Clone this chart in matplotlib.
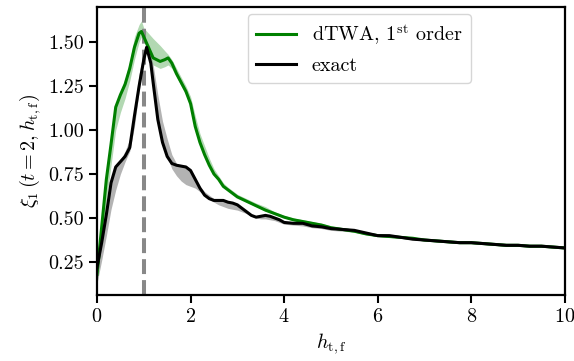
import numpy as np
import matplotlib
matplotlib.use("Agg")
import matplotlib.pyplot as plt

plt.rcParams['font.family'] = 'serif'
plt.rcParams['font.serif'] = ['cmr10', 'DejaVu Serif']
plt.rcParams['mathtext.fontset'] = 'cm'
plt.rcParams['axes.formatter.use_mathtext'] = True
plt.rcParams['font.size'] = 14.5

# dTWA 1st order
x_dtwa = [0, 0.1, 0.2, 0.3, 0.4, 0.5, 0.6, 0.7, 0.8, 0.9, 0.95, 1.0, 1.1, 1.2, 1.35, 1.45, 1.52,
          1.6, 1.7, 1.8, 1.9, 2.0, 2.1, 2.2, 2.3, 2.4, 2.5, 2.6, 2.7, 2.8, 2.9, 3.0, 3.2, 3.4,
          3.6, 3.8, 4.0, 4.2, 4.4, 4.6, 4.8, 5.0, 5.25, 5.5, 5.75, 6.0, 6.25, 6.5, 6.75, 7.0,
          7.25, 7.5, 7.75, 8.0, 8.25, 8.5, 8.75, 9.0, 9.25, 9.5, 9.75, 10.0]
y_dtwa = [0.18, 0.45, 0.72, 0.92, 1.13, 1.20, 1.26, 1.35, 1.47, 1.55, 1.56, 1.53, 1.47, 1.41, 1.39, 1.40, 1.41,
          1.38, 1.32, 1.27, 1.22, 1.15, 1.02, 0.93, 0.86, 0.80, 0.75, 0.72, 0.68, 0.66, 0.64, 0.62, 0.595, 0.57,
          0.545, 0.525, 0.505, 0.49, 0.48, 0.47, 0.46, 0.445, 0.435, 0.425, 0.41, 0.40, 0.395, 0.39, 0.385, 0.375,
          0.37, 0.365, 0.36, 0.36, 0.355, 0.35, 0.345, 0.345, 0.34, 0.34, 0.335, 0.33]
lo_dtwa = [0.15, 0.36, 0.60, 0.80, 1.00, 1.10, 1.18, 1.28, 1.40, 1.50, 1.53, 1.50, 1.44, 1.37, 1.35, 1.36, 1.37,
           1.35, 1.30, 1.25, 1.20, 1.13, 1.00, 0.92, 0.85, 0.79, 0.745, 0.715, 0.675, 0.655, 0.635, 0.615, 0.59, 0.565,
           0.54, 0.52, 0.50, 0.485, 0.475, 0.465, 0.455, 0.44, 0.43, 0.42, 0.405, 0.395, 0.39, 0.385, 0.38, 0.37,
           0.365, 0.36, 0.355, 0.355, 0.35, 0.345, 0.34, 0.34, 0.335, 0.335, 0.33, 0.325]
hi_dtwa = [0.22, 0.48, 0.75, 0.95, 1.15, 1.22, 1.29, 1.39, 1.53, 1.60, 1.62, 1.58, 1.55, 1.52, 1.48, 1.45, 1.43,
           1.40, 1.35, 1.30, 1.25, 1.19, 1.08, 0.98, 0.91, 0.84, 0.78, 0.74, 0.70, 0.675, 0.655, 0.635, 0.61, 0.585,
           0.565, 0.535, 0.515, 0.50, 0.49, 0.48, 0.47, 0.455, 0.445, 0.435, 0.42, 0.41, 0.405, 0.40, 0.39, 0.385,
           0.38, 0.375, 0.37, 0.365, 0.365, 0.36, 0.355, 0.35, 0.35, 0.345, 0.345, 0.34]

# exact
x_exact = [0, 0.1, 0.2, 0.3, 0.4, 0.5, 0.6, 0.7, 0.8, 0.9, 1.0, 1.06, 1.15, 1.2, 1.3, 1.4, 1.5, 1.6,
           1.7, 1.8, 1.9, 2.0, 2.1, 2.2, 2.3, 2.4, 2.5, 2.6, 2.7, 2.8, 2.9, 3.0, 3.1, 3.2, 3.3, 3.4,
           3.5, 3.6, 3.7, 3.8, 3.9, 4.0, 4.2, 4.4, 4.6, 4.8, 5.0, 5.25, 5.5, 5.75, 6.0, 6.25, 6.5,
           6.75, 7.0, 7.25, 7.5, 7.75, 8.0, 8.25, 8.5, 8.75, 9.0, 9.25, 9.5, 9.75, 10.0]
y_exact = [0.22, 0.36, 0.52, 0.70, 0.79, 0.82, 0.85, 0.90, 1.08, 1.25, 1.40, 1.47, 1.38, 1.27, 1.06, 0.93, 0.85, 0.81,
           0.80, 0.795, 0.79, 0.77, 0.72, 0.67, 0.63, 0.61, 0.60, 0.60, 0.60, 0.59, 0.585, 0.575, 0.555, 0.535, 0.515, 0.505,
           0.51, 0.515, 0.51, 0.50, 0.49, 0.475, 0.47, 0.47, 0.455, 0.45, 0.44, 0.435, 0.43, 0.415, 0.40, 0.40, 0.39,
           0.38, 0.375, 0.37, 0.365, 0.36, 0.36, 0.355, 0.35, 0.345, 0.345, 0.34, 0.34, 0.335, 0.33]
lo_exact = [0.13, 0.26, 0.40, 0.55, 0.66, 0.75, 0.82, 0.88, 1.02, 1.22, 1.38, 1.46, 1.36, 1.27, 1.06, 0.93, 0.85, 0.78,
            0.74, 0.71, 0.69, 0.68, 0.67, 0.65, 0.63, 0.605, 0.59, 0.575, 0.565, 0.555, 0.55, 0.545, 0.535, 0.525, 0.51, 0.50,
            0.495, 0.495, 0.49, 0.485, 0.475, 0.465, 0.46, 0.455, 0.445, 0.44, 0.43, 0.425, 0.42, 0.405, 0.395, 0.39, 0.385,
            0.375, 0.37, 0.365, 0.36, 0.355, 0.355, 0.35, 0.345, 0.34, 0.34, 0.335, 0.335, 0.33, 0.325]
hi_exact = [0.23, 0.38, 0.53, 0.71, 0.80, 0.83, 0.88, 0.95, 1.12, 1.32, 1.45, 1.48, 1.42, 1.37, 1.20, 1.05, 0.95, 0.86,
            0.81, 0.80, 0.80, 0.78, 0.73, 0.68, 0.65, 0.63, 0.61, 0.605, 0.60, 0.595, 0.59, 0.58, 0.56, 0.54, 0.52, 0.51,
            0.515, 0.52, 0.515, 0.505, 0.495, 0.48, 0.475, 0.475, 0.46, 0.455, 0.445, 0.44, 0.435, 0.42, 0.405, 0.405, 0.395,
            0.385, 0.38, 0.375, 0.37, 0.365, 0.365, 0.36, 0.355, 0.35, 0.35, 0.345, 0.345, 0.34, 0.335]

h_crit = 1.0

fig = plt.figure(figsize=(5.74, 3.61), dpi=100)
ax = fig.add_axes([0.169, 0.183, 0.815, 0.798])

ax.fill_between(x_exact, lo_exact, hi_exact, color='#b3b3b3', lw=0)
ax.fill_between(x_dtwa, lo_dtwa, hi_dtwa, color='green', alpha=0.3, lw=0)
ax.axvline(h_crit, color='#888888', ls=(0, (3.7, 1.5)), lw=2.9)
ax.plot(x_dtwa, y_dtwa, color='green', lw=2.2, label=r'dTWA, 1$^{\rm st}$ order')
ax.plot(x_exact, y_exact, color='black', lw=2.2, label='exact')

ax.set_xlim(0, 10)
ax.set_ylim(0.063, 1.70)
ax.set_xticks([0, 2, 4, 6, 8, 10])
ax.set_yticks([0.25, 0.50, 0.75, 1.00, 1.25, 1.50])
ax.set_yticklabels(['0.25', '0.50', '0.75', '1.00', '1.25', '1.50'])
ax.set_xlabel(r'$h_{\rm t,f}$')
ax.set_ylabel(r'$\xi_1\,(t=2,h_{\rm t,f})$')
for s in ax.spines.values():
    s.set_linewidth(1.6)
ax.tick_params(length=5.8, width=1.5)

ax.legend(loc='upper right', bbox_to_anchor=(0.80, 0.975), borderaxespad=0, fontsize=14.5,
          handlelength=2.0)

fig.savefig('out.png', dpi=100)
